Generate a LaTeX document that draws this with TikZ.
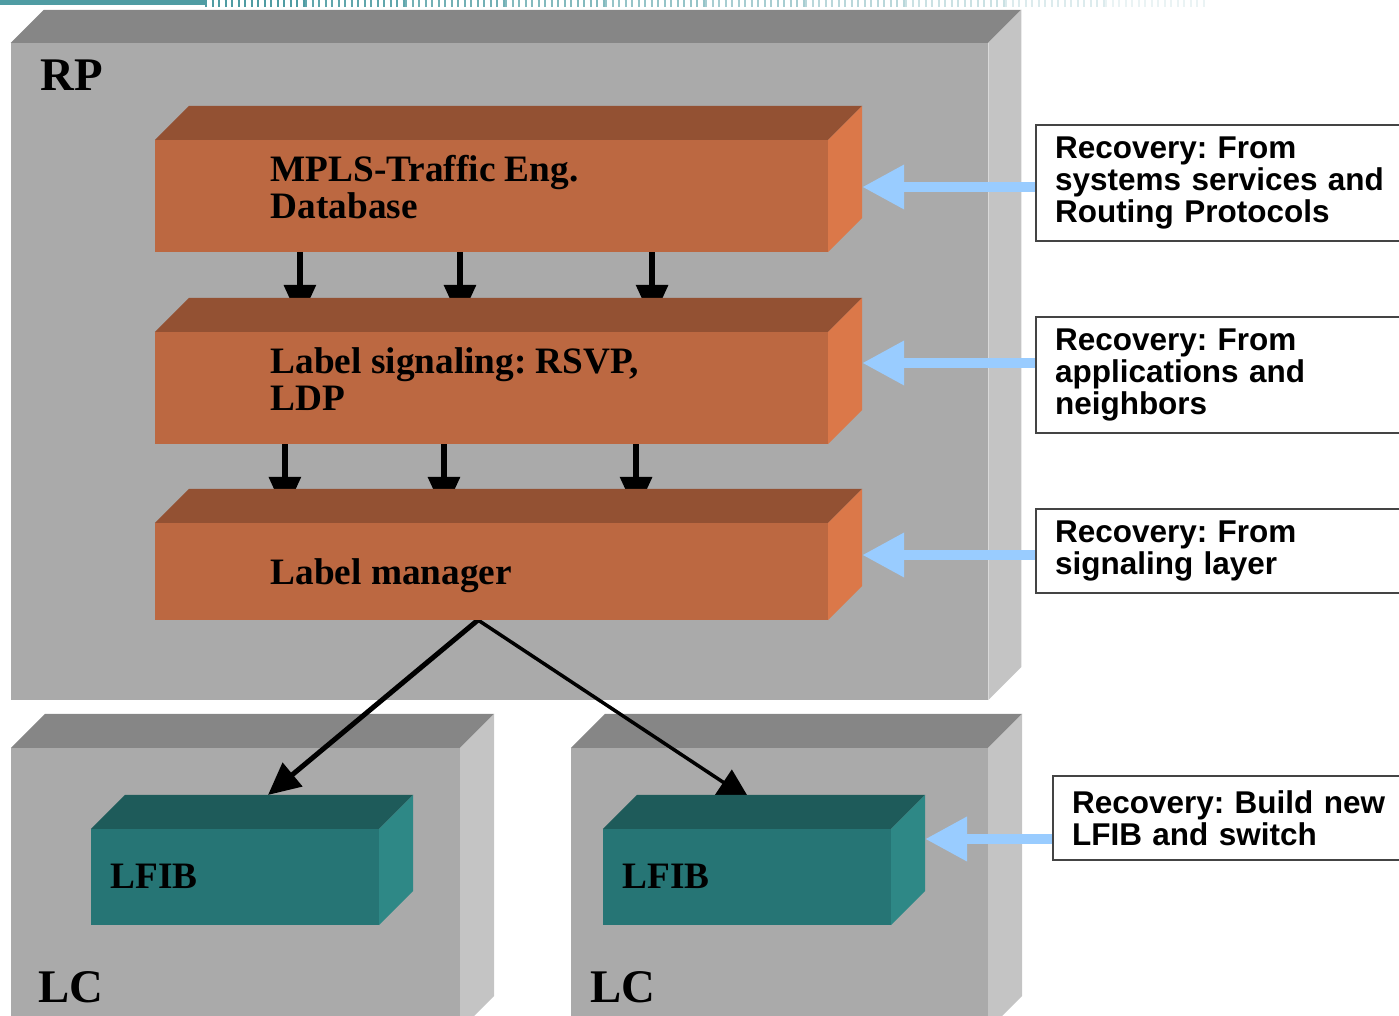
\documentclass[tikz,border=0pt]{standalone}
\usepackage{fontspec}
\setmainfont{Liberation Serif}
\newfontfamily\arialfont{Liberation Sans}
\usetikzlibrary{arrows.meta}
\frenchspacing

\definecolor{chassisfront}{HTML}{AAAAAA}
\definecolor{chassistop}{HTML}{868686}
\definecolor{chassisside}{HTML}{C4C4C4}
\definecolor{ctlfront}{HTML}{BC6841}
\definecolor{ctltop}{HTML}{935133}
\definecolor{ctlside}{HTML}{DB7849}
\definecolor{fibfront}{HTML}{267575}
\definecolor{fibtop}{HTML}{1E5B5A}
\definecolor{fibside}{HTML}{2E8886}
\definecolor{feedblue}{HTML}{99CCFF}
\definecolor{boxline}{HTML}{444444}
\definecolor{bandteal}{HTML}{4F9CA3}

\pgfdeclarelayer{back}
\pgfdeclarelayer{wires}
\pgfsetlayers{back,wires,main}

% top and side faces of a box whose front face is the node #1
\newcommand\prismfaces[4]{%
  \fill[#3] (#1.north west) -- ++(#2,-#2) -- ([shift={(#2,-#2)}]#1.north east) -- (#1.north east) -- cycle;
  \fill[#4] (#1.north east) -- ++(#2,-#2) -- ([shift={(#2,-#2)}]#1.south east) -- (#1.south east) -- cycle;}

\tikzset{
  face/.style={rectangle, inner sep=0pt, outer sep=0pt, draw=none},
  bigtitle/.style={anchor=base west, inner sep=0pt, font=\bfseries\fontsize{13.3pt}{14pt}\selectfont},
  blocktext/.style={anchor=base west, inner sep=0pt, align=left, font=\frenchspacing\bfseries\fontsize{10.6pt}{10.6pt}\selectfont},
  recbox/.style={draw=boxline, line width=0.6pt, fill=white, anchor=north west, inner xsep=0.19cm, inner ysep=0pt,
    text width=3.5cm, align=left, font=\frenchspacing\arialfont\bfseries\fontsize{8.95pt}{9.2pt}\selectfont},
  feed/.style={draw=feedblue, line width=0.1cm, -{Triangle[length=0.42cm,width=0.42cm]}},
  down/.style={draw=black, line width=0.06cm, -{Triangle[length=0.36cm,width=0.31cm]}},
  fanthick/.style={draw=black, line width=0.05cm, -{Triangle[length=0.32cm,width=0.30cm]}},
  fanthin/.style={draw=black, line width=0.035cm, -{Triangle[length=0.32cm,width=0.30cm]}}
}

\begin{document}
\begin{tikzpicture}[x=0.01cm, y=-0.01cm]
\useasboundingbox (0,0) rectangle (1399,1016);

% header band
\fill[bandteal] (0,0) rectangle (205,5);
\foreach \i/\o in {0/1,1/0.9,2/0.8,3/0.7,4/0.6,5/0.5,6/0.4,7/0.3,8/0.2,9/0.12}
  \draw[bandteal, opacity=\o, line width=0.07cm, dash pattern=on 0.02cm off 0.045cm] (205+100*\i,3.5) -- ++(100,0);

% chassis boxes
\begin{pgfonlayer}{back}
  \node[face, fill=chassisfront, minimum width=9.77cm, minimum height=6.57cm] (rp) at (499.5,371.5) {};
  \prismfaces{rp}{33}{chassistop}{chassisside}
  \node[face, fill=chassisfront, minimum width=4.49cm, minimum height=2.82cm] (lcA) at (235.5,889) {};
  \prismfaces{lcA}{34}{chassistop}{chassisside}
  \node[face, fill=chassisfront, minimum width=4.17cm, minimum height=2.82cm] (lcB) at (779.5,889) {};
  \prismfaces{lcB}{34}{chassistop}{chassisside}
\end{pgfonlayer}

\node[bigtitle] (rptitle) at (40,91) {RP};
\node[bigtitle] (lcAtitle) at (38,1003) {LC};
\node[bigtitle] (lcBtitle) at (590,1003) {LC};

% control plane blocks
\node[face, fill=ctlfront, minimum width=6.73cm, minimum height=1.12cm] (db) at (491.5,196) {};
\prismfaces{db}{34}{ctltop}{ctlside}
\node[face, fill=ctlfront, minimum width=6.73cm, minimum height=1.12cm] (sig) at (491.5,388) {};
\prismfaces{sig}{34}{ctltop}{ctlside}
\node[face, fill=ctlfront, minimum width=6.73cm, minimum height=0.97cm] (lm) at (491.5,571.5) {};
\prismfaces{lm}{34}{ctltop}{ctlside}

% multi-line labels are placed by the baseline of their last line
\node[blocktext] (dbtext) at (270,219) {MPLS-Traffic Eng.\\Database};
\node[blocktext] (sigtext) at (270,411) {Label signaling: RSVP,\\LDP};
\node[blocktext] (lmtext) at (270,585) {Label manager};

% forwarding tables
\node[face, fill=fibfront, minimum width=2.88cm, minimum height=0.96cm] (lfA) at (235,877) {};
\prismfaces{lfA}{34}{fibtop}{fibside}
\node[face, fill=fibfront, minimum width=2.88cm, minimum height=0.96cm] (lfB) at (747,877) {};
\prismfaces{lfB}{34}{fibtop}{fibside}
\node[blocktext] (lfAtext) at (110,889) {LFIB};
\node[blocktext] (lfBtext) at (622,889) {LFIB};

% recovery notes
\node[recbox, minimum height=1.16cm] (tb1) at (1035,124) {Recovery: From\\systems services and\\Routing Protocols};
\node[recbox, minimum height=1.16cm] (tb2) at (1035,316) {Recovery: From\\applications and\\neighbors};
\node[recbox, minimum height=0.84cm] (tb3) at (1035,508) {Recovery: From\\signaling layer};
\node[recbox, minimum height=0.84cm] (tb4) at (1052,775) {Recovery: Build new\\LFIB and switch};

\coordinate (hit1) at ([shift={(34,-9)}]db.east);
\coordinate (hit2) at ([shift={(34,-25)}]sig.east);
\coordinate (hit3) at ([shift={(34,-16.5)}]lm.east);
\coordinate (hit4) at ([shift={(34,-38)}]lfB.east);
\draw[feed] (tb1.west |- hit1) -- (hit1);
\draw[feed] (tb2.west |- hit2) -- (hit2);
\draw[feed] (tb3.west |- hit3) -- (hit3);
\draw[feed] (tb4.west |- hit4) -- (hit4);

% connectors running behind the blocks
\begin{pgfonlayer}{wires}
  \foreach \dx in {-1.915cm,-0.315cm,1.605cm}
    \draw[down, shorten >=0.11cm] ([xshift=\dx]db.south) -- ([xshift=\dx]sig.north);
  \foreach \dx in {-2.065cm,-0.475cm,1.445cm}
    \draw[down, shorten >=0.10cm] ([xshift=\dx]sig.south) -- ([xshift=\dx]lm.north);
  \coordinate (fan) at ([xshift=-0.135cm]lm.south);
  \coordinate (lfAhit) at ([shift={(33,-34)}]lfA.north);
  \coordinate (lfBhit) at ([shift={(3,-29)}]lfB.north);
  \draw[fanthick] (fan) -- (lfAhit);
  \draw[fanthin] (fan) -- (lfBhit);
\end{pgfonlayer}
\end{tikzpicture}
\end{document}
